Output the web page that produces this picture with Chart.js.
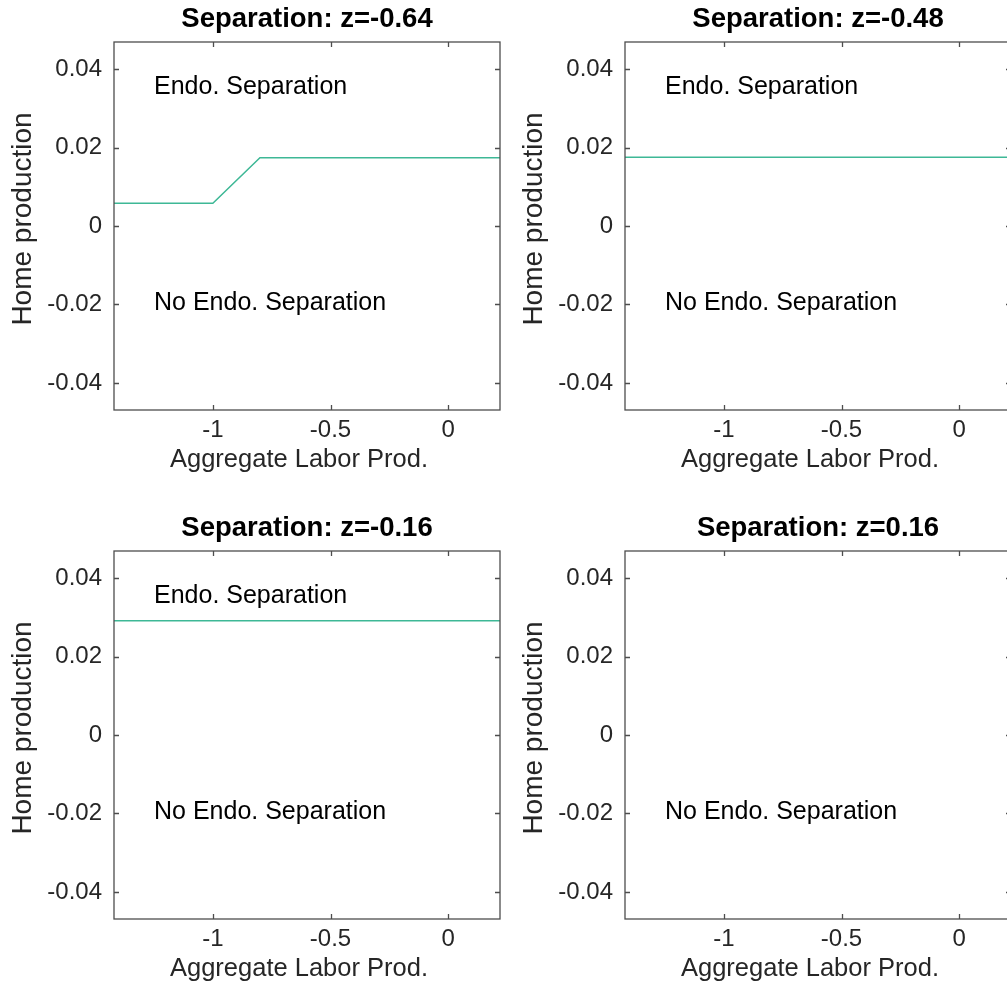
<!DOCTYPE html>
<html>
<head>
<meta charset="utf-8">
<script src="https://cdn.jsdelivr.net/npm/chart.js@4.4.1/dist/chart.umd.min.js"></script>
<style>
  html, body { margin: 0; padding: 0; background: #fff; overflow: hidden; width: 1007px; height: 986px; }
  canvas { position: absolute; }
</style>
</head>
<body>
<canvas id="c0" width="512" height="509" style="left:0px;top:0px"></canvas>
<canvas id="c1" width="512" height="509" style="left:511px;top:0px"></canvas>
<canvas id="c2" width="512" height="509" style="left:0px;top:509px"></canvas>
<canvas id="c3" width="512" height="509" style="left:511px;top:509px"></canvas>
<script>
// ---- data ----
const panelTitles = ['Separation: z=-0.64', 'Separation: z=-0.48', 'Separation: z=-0.16', 'Separation: z=0.16'];
const xAxisTitle = 'Aggregate Labor Prod.';
const yAxisTitle = 'Home production';
const xTickValues = [-1, -0.5, 0];
const xTickLabels = ['-1', '-0.5', '0'];
const yTickValues = [-0.04, -0.02, 0, 0.02, 0.04];
const yTickLabels = ['-0.04', '-0.02', '0', '0.02', '0.04'];
const xRange = [-1.42, 0.22];
const yRange = [-0.0469, 0.0469];

const boundaryX0 = [-1.42, -1.0, -0.8, 0.22];
const boundaryY0 = [0.0058, 0.0058, 0.0174, 0.0174];
const boundaryX1 = [-1.42, 0.22];
const boundaryY1 = [0.0175, 0.0175];
const boundaryX2 = [-1.42, 0.22];
const boundaryY2 = [0.0291, 0.0291];
const boundaryX3 = [];
const boundaryY3 = [];

const labelTexts0 = ['Endo. Separation', 'No Endo. Separation'];
const labelX0 = [-1.25, -1.25];
const labelY0 = [0.0354, -0.0196];
const labelTexts1 = ['Endo. Separation', 'No Endo. Separation'];
const labelX1 = [-1.25, -1.25];
const labelY1 = [0.0354, -0.0196];
const labelTexts2 = ['Endo. Separation', 'No Endo. Separation'];
const labelX2 = [-1.25, -1.25];
const labelY2 = [0.0354, -0.0196];
const labelTexts3 = ['No Endo. Separation'];
const labelX3 = [-1.25];
const labelY3 = [-0.0196];

// ---- drawing ----
const FONT = '"Liberation Sans", Arial, Helvetica, sans-serif';
const lineColor = 'rgb(62,184,150)';
const axisColor = '#4d4d4d';
const textColor = '#262626';

const panels = [
  { id: 'c0', xs: boundaryX0, ys: boundaryY0, lt: labelTexts0, lx: labelX0, ly: labelY0 },
  { id: 'c1', xs: boundaryX1, ys: boundaryY1, lt: labelTexts1, lx: labelX1, ly: labelY1 },
  { id: 'c2', xs: boundaryX2, ys: boundaryY2, lt: labelTexts2, lx: labelX2, ly: labelY2 },
  { id: 'c3', xs: boundaryX3, ys: boundaryY3, lt: labelTexts3, lx: labelX3, ly: labelY3 },
];

const framePlugin = {
  id: 'frame',
  afterDraw(chart, args, opts) {
    const { ctx, chartArea, scales } = chart;
    const { left, top, right, bottom } = chartArea;
    ctx.save();
    ctx.strokeStyle = axisColor;
    ctx.lineWidth = 1.3;
    ctx.strokeRect(left, top, right - left, bottom - top);
    const tl = 5;
    ctx.beginPath();
    scales.x.ticks.forEach(t => {
      const px = Math.round(scales.x.getPixelForValue(t.value)) + 0.5;
      ctx.moveTo(px, bottom); ctx.lineTo(px, bottom - tl);
      ctx.moveTo(px, top); ctx.lineTo(px, top + tl);
    });
    scales.y.ticks.forEach(t => {
      const py = Math.round(scales.y.getPixelForValue(t.value)) + 0.5;
      ctx.moveTo(left, py); ctx.lineTo(left + tl, py);
      ctx.moveTo(right, py); ctx.lineTo(right - tl, py);
    });
    ctx.stroke();
    // region labels
    ctx.fillStyle = '#000';
    ctx.font = '25px ' + FONT;
    ctx.textAlign = 'left';
    ctx.textBaseline = 'middle';
    opts.texts.forEach((s, i) => {
      ctx.fillText(s, scales.x.getPixelForValue(opts.xs[i]), scales.y.getPixelForValue(opts.ys[i]));
    });
    // panel title
    ctx.font = 'bold 27.5px ' + FONT;
    ctx.textAlign = 'center';
    ctx.fillText(opts.title, (left + right) / 2, 19);
    // axis titles
    ctx.fillStyle = textColor;
    ctx.font = '25.5px ' + FONT;
    ctx.fillText(xAxisTitle, (left + right) / 2 - 8, 460);
    ctx.translate(23, (top + bottom) / 2 - 7);
    ctx.rotate(-Math.PI / 2);
    ctx.font = '28px ' + FONT;
    ctx.fillText(yAxisTitle, 0, 0);
    ctx.restore();
  }
};

panels.forEach((p, idx) => {
  const pts = p.xs.map((x, i) => ({ x: x, y: p.ys[i] }));
  new Chart(document.getElementById(p.id), {
    type: 'scatter',
    data: {
      datasets: [{
        data: pts,
        showLine: true,
        borderColor: lineColor,
        borderWidth: 1.5,
        pointRadius: 0,
        pointHoverRadius: 0,
        fill: false,
        tension: 0
      }]
    },
    options: {
      responsive: false,
      animation: false,
      devicePixelRatio: 1,
      layout: { padding: { left: 0, top: 42, right: 12, bottom: 0 } },
      plugins: {
        legend: { display: false },
        tooltip: { enabled: false },
        title: { display: false },
        frame: { title: panelTitles[idx], texts: p.lt, xs: p.lx, ys: p.ly }
      },
      scales: {
        x: {
          type: 'linear',
          min: xRange[0], max: xRange[1],
          grid: { display: false, drawTicks: false },
          border: { display: false },
          afterBuildTicks: s => { s.ticks = xTickValues.map(v => ({ value: v })); },
          afterFit: s => { s.height = 99; },
          ticks: {
            padding: 6,
            maxRotation: 0,
            color: textColor,
            font: { family: FONT, size: 24 },
            callback: (v) => { const k = xTickValues.indexOf(v); return k >= 0 ? xTickLabels[k] : ''; }
          },
          title: { display: false }
        },
        y: {
          type: 'linear',
          min: yRange[0], max: yRange[1],
          grid: { display: false, drawTicks: false },
          border: { display: false },
          afterBuildTicks: s => { s.ticks = yTickValues.map(v => ({ value: v })); },
          afterFit: s => { s.width = 114; },
          ticks: {
            padding: 12,
            color: textColor,
            font: { family: FONT, size: 24 },
            callback: (v) => { const k = yTickValues.indexOf(v); return k >= 0 ? yTickLabels[k] : ''; }
          },
          title: { display: false }
        }
      }
    },
    plugins: [framePlugin]
  });
});
</script>
</body>
</html>
